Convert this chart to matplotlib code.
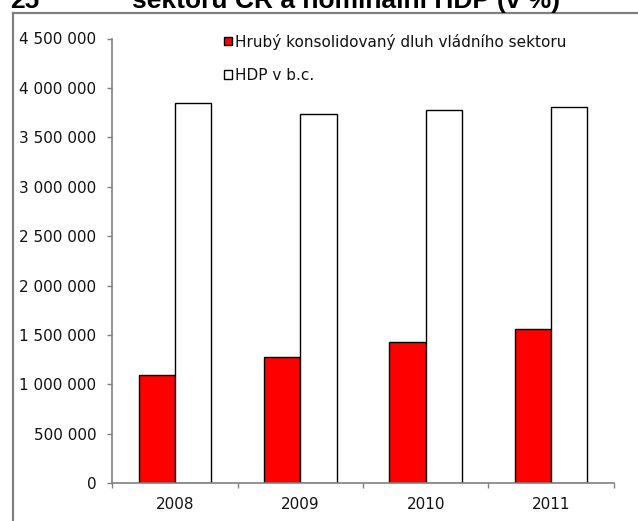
# Government debt vs nominal GDP, Czech Republic 2008-2011
# bar chart, red = debt, white = GDP

import numpy as np
import matplotlib.pyplot as plt
from matplotlib.ticker import FuncFormatter, FixedLocator

# %%
# data
years = ["2008", "2009", "2010", "2011"]
dluh = [1100000, 1280000, 1430000, 1565000]     # Hrubý konsolidovaný dluh vládního sektoru
hdp = [3845000, 3740000, 3775000, 3810000]      # HDP v b.c.
y_ticks = [0, 500000, 1000000, 1500000, 2000000, 2500000, 3000000, 3500000, 4000000, 4500000]

label_dluh = "Hrubý konsolidovaný dluh vládního sektoru"
label_hdp = "HDP v b.c."

# %%
W, H = 638, 521
fig = plt.figure(figsize=(W / 100, H / 100), dpi=100)

# plot area in pixels (left, top, right, bottom)
L, T, R, B = 112.3, 38.5, 613.7, 483.3
ax = fig.add_axes([L / W, 1 - B / H, (R - L) / W, (B - T) / H])

x = np.arange(len(years))
bw = 0.29
gray = "#808080"

ax.bar(x - bw / 2, dluh, width=bw, color="#ff0000", edgecolor="black", linewidth=1.0, label=label_dluh)
ax.bar(x + bw / 2, hdp, width=bw, color="white", edgecolor="black", linewidth=1.0, label=label_hdp)

ax.set_xlim(-0.5, len(years) - 0.5)
ax.set_ylim(0, 4500000)

# y axis, numbers with space as thousands separator
ax.set_yticks(y_ticks)
ax.yaxis.set_major_formatter(FuncFormatter(lambda v, p: f"{int(v):,}".replace(",", " ")))
ax.tick_params(axis="y", direction="out", length=3.6, width=1.0, color=gray, pad=8,
               labelsize=11, labelcolor="#111111")

# x axis, labels centered, tick marks between the categories
ax.set_xticks(x)
ax.set_xticklabels(years)
ax.xaxis.set_minor_locator(FixedLocator(np.arange(len(years) + 1) - 0.5))
ax.tick_params(axis="x", which="major", length=0, pad=10, labelsize=11, labelcolor="#111111")
ax.tick_params(axis="x", which="minor", direction="out", length=3.6, width=1.0, color=gray)

for s in ["top", "right"]:
    ax.spines[s].set_visible(False)
for s in ["left", "bottom"]:
    ax.spines[s].set_color(gray)
    ax.spines[s].set_linewidth(1.2)

for lab in ax.get_xticklabels() + ax.get_yticklabels():
    lab.set_family("DejaVu Sans")

# legend up top, no frame
leg = ax.legend(loc="upper left", bbox_to_anchor=(224 / W, 1 - 33.5 / H), bbox_transform=fig.transFigure,
                frameon=False, fontsize=11, handlelength=0.5, handleheight=0.5, handletextpad=0.25,
                labelspacing=1.22, borderpad=0, borderaxespad=0)
for t in leg.get_texts():
    t.set_color("#111111")

# frame around the chart, only the top and left edge are visible
fig.add_artist(plt.Line2D([12.5 / W, 1], [1 - 12.5 / H, 1 - 12.5 / H], transform=fig.transFigure,
                          color=gray, linewidth=1.6))
fig.add_artist(plt.Line2D([12.5 / W, 12.5 / W], [0, 1 - 12.5 / H], transform=fig.transFigure,
                          color=gray, linewidth=1.6))

# title, cut off at the top of the picture (as in the original)
fig.text(10 / W, 1 - 8 / H, "25", fontsize=19, fontweight="bold", family="Liberation Sans", va="baseline")
fig.text(132 / W, 1 - 8 / H, "sektoru ČR a nominální HDP (v %)", fontsize=19, fontweight="bold",
         family="Liberation Sans", va="baseline")

fig.savefig("out.png", dpi=100)
